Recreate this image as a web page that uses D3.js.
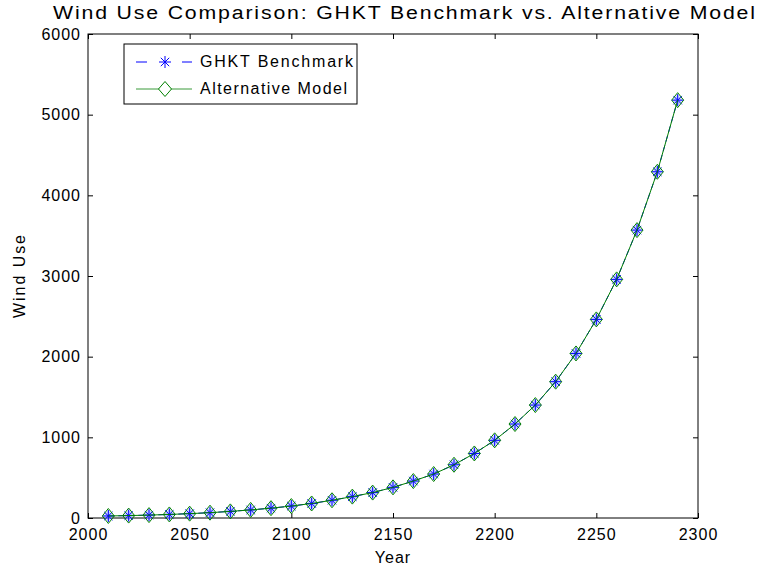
<!DOCTYPE html>
<html>
<head>
<meta charset="utf-8">
<script src="https://cdn.jsdelivr.net/npm/d3@7"></script>
<style>
  body { margin: 0; background: #fff; }
  text { font-family: "Liberation Sans", Arial, sans-serif; }
</style>
</head>
<body>
<svg id="chart"></svg>
<script>
const years = d3.range(2010, 2291, 10);
const ghktValues = [25, 30, 36, 44, 54, 66, 82, 100, 122, 148, 180, 220, 265, 315, 380, 458, 545, 660, 800, 963, 1165, 1400, 1690, 2040, 2462, 2958, 3569, 4292, 5180];
const altValues = [25, 30, 36, 44, 54, 66, 82, 100, 122, 148, 180, 220, 265, 315, 380, 458, 545, 660, 800, 963, 1165, 1400, 1690, 2040, 2462, 2958, 3569, 4292, 5180];
const xTicks = [2000, 2050, 2100, 2150, 2200, 2250, 2300];
const yTicks = [0, 1000, 2000, 3000, 4000, 5000, 6000];
const seriesNames = ["GHKT Benchmark", "Alternative Model"];

const width = 760;
const height = 571;
const margin = { top: 34, right: 62, bottom: 53, left: 88 };

const svg = d3.select("#chart").attr("width", width).attr("height", height);

const x = d3.scaleLinear().domain([2000, 2300]).range([margin.left, width - margin.right]);
const y = d3.scaleLinear().domain([0, 6000]).range([height - margin.bottom, margin.top]);

// axes box, ticks pointing inward
const tickLen = 5;
svg.append("g")
  .attr("transform", `translate(0,${y(0)})`)
  .call(d3.axisBottom(x).tickValues(xTicks).tickSizeInner(-tickLen).tickSizeOuter(0).tickPadding(11).tickFormat(d3.format("d")))
  .call((g) => g.select(".domain").remove());
svg.append("g")
  .attr("transform", `translate(0,${y(6000)})`)
  .call(d3.axisTop(x).tickValues(xTicks).tickSizeInner(-tickLen).tickSizeOuter(0).tickFormat(""))
  .call((g) => g.select(".domain").remove());
svg.append("g")
  .attr("class", "yax")
  .attr("transform", `translate(${x(2000)},0)`)
  .call(d3.axisLeft(y).tickValues(yTicks).tickSizeInner(-tickLen).tickSizeOuter(0).tickPadding(7).tickFormat(d3.format("d")))
  .call((g) => g.select(".domain").remove());
svg.append("g")
  .attr("transform", `translate(${x(2300)},0)`)
  .call(d3.axisRight(y).tickValues(yTicks).tickSizeInner(-tickLen).tickSizeOuter(0).tickFormat(""))
  .call((g) => g.select(".domain").remove());

svg.selectAll(".tick text")
  .style("font-size", "16px")
  .style("letter-spacing", "1px")
  .attr("fill", "#000");
svg.selectAll(".tick line").attr("stroke", "#000");

svg.append("rect")
  .attr("x", x(2000))
  .attr("y", y(6000))
  .attr("width", x(2300) - x(2000))
  .attr("height", y(0) - y(6000))
  .attr("fill", "none")
  .attr("stroke", "#000")
  .attr("stroke-width", 1);

// labels (the reference glyphs are drawn wide, hence the horizontal stretch)
const titleScale = 1.12;
svg.append("text")
  .attr("transform", `translate(53,19) scale(${titleScale},1)`)
  .attr("textLength", 702 / titleScale)
  .attr("lengthAdjust", "spacing")
  .style("font-size", "19px")
  .text("Wind Use Comparison: GHKT Benchmark vs. Alternative Model");
svg.append("text")
  .attr("x", (x(2000) + x(2300)) / 2)
  .attr("y", 563)
  .attr("text-anchor", "middle")
  .style("font-size", "16px")
  .style("letter-spacing", "1px")
  .text("Year");
svg.append("text")
  .attr("transform", `translate(25,${(y(0) + y(6000)) / 2 + 42}) rotate(-90)`)
  .attr("textLength", 83)
  .attr("lengthAdjust", "spacing")
  .style("font-size", "16px")
  .text("Wind Use");

const ghkt = years.map((yr, i) => ({ yr, v: ghktValues[i] }));
const alt = years.map((yr, i) => ({ yr, v: altValues[i] }));
const line = d3.line().x((d) => x(d.yr)).y((d) => y(d.v));

function star(g, cx, cy, r) {
  const arms = [[r, 0], [0, r], [r * 0.7, r * 0.7], [r * 0.7, -r * 0.7]];
  arms.forEach(([dx, dy]) => {
    g.append("line")
      .attr("x1", cx - dx).attr("y1", cy - dy)
      .attr("x2", cx + dx).attr("y2", cy + dy)
      .attr("stroke", "#0000ff").attr("stroke-width", 1);
  });
}
const diamondPath = (cx, cy, w, h) => `M${cx},${cy - h}L${cx + w},${cy}L${cx},${cy + h}L${cx - w},${cy}Z`;
function diamond(g, cx, cy, w, h) {
  g.append("path")
    .attr("d", diamondPath(cx, cy, w, h))
    .attr("fill", "none")
    .attr("stroke", "#008000")
    .attr("stroke-width", 1);
}

// GHKT benchmark: blue dashed line
svg.append("path")
  .datum(ghkt)
  .attr("d", line)
  .attr("fill", "none")
  .attr("stroke", "#0000ff")
  .attr("stroke-width", 1)
  .attr("stroke-dasharray", "6,4");

// soft halo the blurred stars leave inside the diamonds
svg.append("g")
  .selectAll("path")
  .data(ghkt)
  .enter()
  .append("path")
  .attr("d", (d) => diamondPath(x(d.yr), y(d.v), 5, 6))
  .attr("fill", "#8fa6ff")
  .attr("opacity", 0.55);

const gStars = svg.append("g");
ghkt.forEach((d) => star(gStars, x(d.yr), y(d.v), 6));

// Alternative model: green solid line with diamonds
svg.append("path")
  .datum(alt)
  .attr("d", line)
  .attr("fill", "none")
  .attr("stroke", "#008000")
  .attr("stroke-width", 1);
const gDia = svg.append("g");
alt.forEach((d) => diamond(gDia, x(d.yr), y(d.v), 6, 7.5));

// legend
const leg = svg.append("g");
leg.append("rect")
  .attr("x", 124).attr("y", 44)
  .attr("width", 233).attr("height", 60)
  .attr("fill", "#fff").attr("stroke", "#000");
leg.append("line")
  .attr("x1", 136).attr("x2", 147).attr("y1", 62).attr("y2", 62)
  .attr("stroke", "#0000ff");
leg.append("line")
  .attr("x1", 182).attr("x2", 192).attr("y1", 62).attr("y2", 62)
  .attr("stroke", "#0000ff");
star(leg, 165, 62, 6);
leg.append("line")
  .attr("x1", 136).attr("x2", 192).attr("y1", 89).attr("y2", 89)
  .attr("stroke", "#3a9a3a");
leg.append("path")
  .attr("d", diamondPath(165, 89, 6.5, 7.5))
  .attr("fill", "#fff")
  .attr("stroke", "#008000");
leg.selectAll("text.lab")
  .data(seriesNames)
  .enter()
  .append("text")
  .attr("class", "lab")
  .attr("x", 200)
  .attr("y", (d, i) => 67 + i * 27)
  .attr("textLength", (d, i) => (i === 0 ? 153 : 147))
  .attr("lengthAdjust", "spacing")
  .style("font-size", "16px")
  .text((d) => d);
</script>
</body>
</html>
